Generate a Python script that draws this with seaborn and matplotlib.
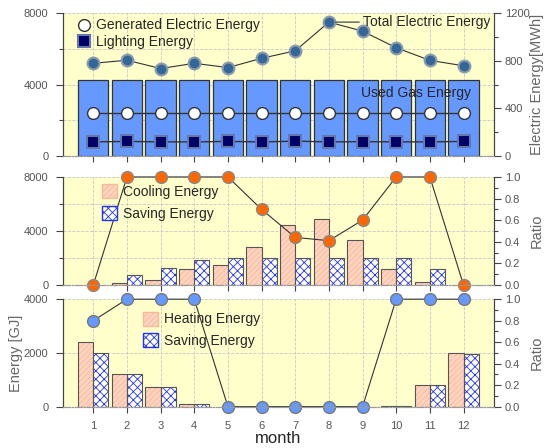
import numpy as np
import pandas as pd
import matplotlib
matplotlib.use('Agg')
import matplotlib.pyplot as plt
import seaborn as sns
from matplotlib.patches import Rectangle
from matplotlib.lines import Line2D
from matplotlib.ticker import MultipleLocator, FixedLocator

# data
months = [1, 2, 3, 4, 5, 6, 7, 8, 9, 10, 11, 12]
gas_energy = [4280, 4280, 4280, 4280, 4280, 4280, 4280, 4280, 4280, 4280, 4280, 4240]
total_elec = [780, 806, 736, 780, 744, 822, 885, 1127, 1051, 911, 805, 759]
generated_elec = [362, 362, 362, 362, 362, 362, 362, 362, 362, 362, 362, 362]
lighting = [118, 122, 118, 118, 122, 118, 124, 118, 120, 118, 118, 122]

cooling = [0, 120, 340, 1210, 1460, 2800, 4410, 4850, 3320, 1160, 200, 0]
cool_saving = [0, 740, 1240, 1860, 1960, 1960, 1960, 1960, 1960, 1960, 1160, 0]
cool_ratio = [0, 1, 1, 1, 1, 0.70, 0.44, 0.41, 0.60, 1, 1, 0]

heating = [2420, 1210, 720, 90, 0, 0, 0, 0, 0, 25, 800, 1990]
heat_saving = [1990, 1210, 720, 90, 0, 0, 0, 0, 0, 20, 800, 1950]
heat_ratio = [0.8, 1, 1, 1, 0, 0, 0, 0, 0, 1, 1, 1]

sns.set_style('white')
plt.rcParams['font.family'] = ['Liberation Sans', 'DejaVu Sans']
plt.rcParams['hatch.linewidth'] = 0.6

BG = '#FFFFCC'
TICK_C = '#555555'
PEACH = '#FFD4BE'
PEACH_H = '#F7B89C'
BLUE_H = '#2233EE'

fig = plt.figure(figsize=(5.46, 4.48), dpi=100)
ax1 = fig.add_axes([0.1154, 0.652, 0.789, 0.318])
ax2 = fig.add_axes([0.1154, 0.364, 0.789, 0.241])
ax3 = fig.add_axes([0.1154, 0.0922, 0.789, 0.240])


def style_axes(ax, axr, ymax, ymajor, yminor, rmax, rmajor, rminor):
    ax.set_facecolor(BG)
    ax.set_xlim(0.1, 12.9)
    ax.set_ylim(0, ymax)
    axr.set_ylim(0, rmax)
    ax.set_xticks(months)
    ax.yaxis.set_major_locator(MultipleLocator(ymajor))
    ax.yaxis.set_minor_locator(MultipleLocator(yminor))
    axr.yaxis.set_major_locator(MultipleLocator(rmajor))
    axr.yaxis.set_minor_locator(MultipleLocator(rminor))
    ax.set_axisbelow(True)
    ax.grid(True, which='both', axis='y', ls='--', lw=0.6, color='#C8C8C8')
    ax.grid(True, which='major', axis='x', ls='--', lw=0.6, color='#C8C8C8')
    for a in (ax, axr):
        a.spines['top'].set_visible(False)
        a.spines['bottom'].set_linestyle('-.')
        a.spines['bottom'].set_color('#999999')
        a.spines['bottom'].set_linewidth(0.8)
        a.spines['left'].set_color('#444444')
        a.spines['right'].set_color('#444444')
        a.set_xlabel('')
        a.set_ylabel('')
    ax.tick_params(axis='y', which='major', direction='out', length=5, width=0.8,
                   color='#444444', labelcolor=TICK_C, labelsize=8, pad=5.5, left=True)
    ax.tick_params(axis='y', which='minor', direction='out', length=3, width=0.8,
                   color='#444444', left=True)
    axr.tick_params(axis='y', which='major', direction='out', length=5, width=0.8,
                    color='#444444', labelcolor=TICK_C, labelsize=8, pad=3, right=True)
    axr.tick_params(axis='y', which='minor', direction='out', length=3, width=0.8,
                    color='#444444', right=True)
    ax.tick_params(axis='x', which='major', direction='out', length=4, width=0.8,
                   color='#444444', labelcolor=TICK_C, labelsize=8, pad=6, bottom=True)


def outline_bars(ax, container, hatch_color, face, hatch):
    for p in container.patches:
        p.set_facecolor(face)
        p.set_edgecolor(hatch_color)
        p.set_hatch(hatch)
        p.set_linewidth(0)
        if p.get_height() > 0:
            ax.add_patch(Rectangle(p.get_xy(), p.get_width(), p.get_height(),
                                   fill=False, edgecolor='#555555', lw=0.8, zorder=p.get_zorder() + 0.1))


# ---- top panel: gas and electric energy
sns.barplot(x=months, y=gas_energy, native_scale=True, ax=ax1, color='#6699FF',
            saturation=1, width=0.9, edgecolor='#333333', linewidth=0.9)
ax1r = ax1.twinx()
sns.lineplot(x=months, y=total_elec, ax=ax1r, color='#333333', lw=0.8, marker='o',
             markersize=8.5, markerfacecolor='#336699', markeredgecolor='#8C9BAA', markeredgewidth=1.5)
sns.lineplot(x=months, y=generated_elec, ax=ax1r, color='#333333', lw=1.0, marker='o',
             markersize=8.5, markerfacecolor='white', markeredgecolor='#333333', markeredgewidth=1.0)
sns.lineplot(x=months, y=lighting, ax=ax1r, color='#333333', lw=1.0, marker='s',
             markersize=8, markerfacecolor='#000066', markeredgecolor='#6677AA', markeredgewidth=1.5)
style_axes(ax1, ax1r, 8000, 4000, 2000, 1200, 400, 200)
ax1.tick_params(axis='x', labelbottom=False)

ax1r.annotate('Total Electric Energy', xy=(months[7], total_elec[7]), xytext=(9.0, total_elec[7]),
              va='center', ha='left', fontsize=10,
              arrowprops=dict(arrowstyle='-', color='#333333', lw=0.8, shrinkA=0, shrinkB=5))
ax1.text(8.95, 3550, 'Used Gas Energy', va='center', ha='left', fontsize=10)
top_handles = [
    Line2D([], [], ls='none', marker='o', markersize=8.5, markerfacecolor='white',
           markeredgecolor='#333333', markeredgewidth=1.0),
    Line2D([], [], ls='none', marker='s', markersize=8, markerfacecolor='#000066',
           markeredgecolor='#6677AA', markeredgewidth=1.5),
]
ax1r.legend(top_handles, ['Generated Electric Energy', 'Lighting Energy'], loc='upper left',
            bbox_to_anchor=(0.019, 1.004), frameon=False, fontsize=10, handlelength=1.0,
            handletextpad=0.4, labelspacing=0.2, borderaxespad=0)
ax1r.set_ylabel('Electric Energy[MWh]', fontsize=10.5, color='#666666')
ax1r.yaxis.set_label_coords(1.0835, 0.5)

# ---- middle panel: cooling
cool_df = pd.DataFrame({
    'month': months * 2,
    'energy': cooling + cool_saving,
    'kind': ['Cooling Energy'] * 12 + ['Saving Energy'] * 12,
})
sns.barplot(data=cool_df, x='month', y='energy', hue='kind', native_scale=True, ax=ax2,
            width=0.9, saturation=1, legend=False, palette=[PEACH, 'white'])
outline_bars(ax2, ax2.containers[0], PEACH_H, PEACH, '//////')
outline_bars(ax2, ax2.containers[1], BLUE_H, 'white', 'xxxx')
ax2r = ax2.twinx()
sns.lineplot(x=months, y=cool_ratio, ax=ax2r, color='#333333', lw=0.8, marker='o',
             markersize=8.5, markerfacecolor='#FF6600', markeredgecolor='#888888', markeredgewidth=1.0)
style_axes(ax2, ax2r, 8000, 4000, 2000, 1.0, 0.2, 0.1)
ax2.tick_params(axis='x', labelbottom=False)
mid_handles = [Rectangle((0, 0), 1, 1, facecolor=PEACH, edgecolor=PEACH_H, hatch='//////'),
               Rectangle((0, 0), 1, 1, facecolor='white', edgecolor=BLUE_H, hatch='xxxx')]
ax2r.legend(mid_handles, ['Cooling Energy', 'Saving Energy'], loc='upper left',
            bbox_to_anchor=(0.0775, 0.985), frameon=False, fontsize=10, handlelength=1.1,
            handleheight=1.2, handletextpad=0.4, labelspacing=0.5, borderaxespad=0)
ax2r.set_ylabel('Ratio', fontsize=10.5, color='#666666')
ax2r.yaxis.set_label_coords(1.0835, 0.5)

# ---- bottom panel: heating
heat_df = pd.DataFrame({
    'month': months * 2,
    'energy': heating + heat_saving,
    'kind': ['Heating Energy'] * 12 + ['Saving Energy'] * 12,
})
sns.barplot(data=heat_df, x='month', y='energy', hue='kind', native_scale=True, ax=ax3,
            width=0.9, saturation=1, legend=False, palette=[PEACH, 'white'])
outline_bars(ax3, ax3.containers[0], PEACH_H, PEACH, '//////')
outline_bars(ax3, ax3.containers[1], BLUE_H, 'white', 'xxxx')
ax3r = ax3.twinx()
sns.lineplot(x=months, y=heat_ratio, ax=ax3r, color='#333333', lw=0.8, marker='o',
             markersize=8.5, markerfacecolor='#6699FF', markeredgecolor='#777777', markeredgewidth=1.0)
style_axes(ax3, ax3r, 4000, 2000, 1000, 1.0, 0.2, 0.1)
ax3.yaxis.set_minor_locator(FixedLocator([]))
bot_handles = [Rectangle((0, 0), 1, 1, facecolor=PEACH, edgecolor=PEACH_H, hatch='//////'),
               Rectangle((0, 0), 1, 1, facecolor='white', edgecolor=BLUE_H, hatch='xxxx')]
ax3r.legend(bot_handles, ['Heating Energy', 'Saving Energy'], loc='upper left',
            bbox_to_anchor=(0.1726, 0.937), frameon=False, fontsize=10, handlelength=1.1,
            handleheight=1.2, handletextpad=0.4, labelspacing=0.5, borderaxespad=0)
ax3r.set_ylabel('Ratio', fontsize=10.5, color='#666666')
ax3r.yaxis.set_label_coords(1.0835, 0.5)
ax3.set_ylabel('Energy [GJ]', fontsize=10.5, color='#666666')
ax3.yaxis.set_label_coords(-0.093, 0.5)
ax3.set_xlabel('month', fontsize=12, labelpad=0)

for a in (ax1r, ax2r, ax3r):
    for line in a.lines:
        line.set_clip_on(False)

fig.savefig('out.png', dpi=100)
